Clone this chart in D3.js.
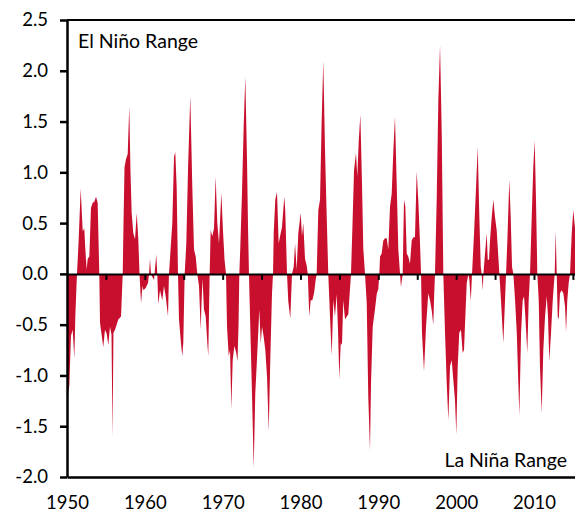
<!DOCTYPE html>
<html>
<head>
<meta charset="utf-8">
<script src="https://cdn.jsdelivr.net/npm/d3@7"></script>
<style>
  body { margin: 0; background: #fff; }
  text { font-family: Lato, "Open Sans", sans-serif; fill: #000; }
</style>
</head>
<body>
<div id="viz"></div>
<script>
// ENSO index, [decimal year, value]
const enso1950s = [
  [1950.00, -1.30], [1950.09, -1.21], [1950.30, -1.10], [1950.51, -0.61], [1950.73, -0.55],
  [1950.94, -0.83], [1951.07, -0.42], [1951.28, 0.00], [1951.48, 0.30], [1951.76, 0.84],
  [1952.02, 0.42], [1952.22, 0.45], [1952.35, 0.25], [1952.53, 0.04], [1952.66, 0.15],
  [1952.87, 0.17], [1953.08, 0.65], [1953.30, 0.70], [1953.51, 0.71], [1953.73, 0.76],
  [1953.94, 0.70], [1954.15, 0.00], [1954.24, -0.48], [1954.66, -0.72], [1954.88, -0.55],
  [1955.10, -0.59], [1955.31, -0.70], [1955.52, -0.52], [1955.72, -0.60], [1955.85, -1.60],
  [1955.97, -0.58], [1956.17, -0.55], [1956.59, -0.45], [1956.94, -0.42], [1957.16, 0.00],
  [1957.26, 0.50], [1957.39, 1.05], [1957.58, 1.13], [1957.80, 1.18], [1958.00, 1.65],
  [1958.16, 1.00], [1958.31, 0.60], [1958.52, 0.40], [1958.74, 0.34], [1958.96, 0.60],
  [1959.16, 0.34], [1959.32, 0.00], [1959.51, -0.29], [1959.70, -0.12], [1959.82, -0.16]
];
const enso1960s = [
  [1960.11, -0.14], [1960.41, -0.09], [1960.54, 0.00], [1960.66, 0.15], [1960.79, 0.00],
  [1961.18, -0.06], [1961.47, 0.19], [1961.60, 0.00], [1961.73, -0.30], [1961.95, -0.16],
  [1962.24, -0.26], [1962.46, -0.12], [1962.68, -0.22], [1962.98, -0.42], [1963.10, 0.00],
  [1963.23, 0.15], [1963.53, 0.50], [1963.75, 1.15], [1963.91, 1.20], [1964.09, 0.86],
  [1964.26, 0.00], [1964.39, -0.45], [1964.61, -0.65], [1964.81, -0.81], [1964.94, -0.68],
  [1965.12, 0.00], [1965.33, 0.30], [1965.55, 1.03], [1965.84, 1.75], [1966.10, 0.86],
  [1966.32, 0.24], [1966.54, 0.17], [1966.74, 0.00], [1966.96, -0.12], [1967.18, -0.55],
  [1967.28, -0.29], [1967.41, -0.05], [1967.60, -0.35], [1967.82, -0.42], [1968.03, -0.68],
  [1968.15, -0.81], [1968.33, 0.00], [1968.46, 0.43], [1968.67, 0.37], [1968.89, 0.45],
  [1969.10, 0.96], [1969.31, 0.50], [1969.53, 0.30], [1969.83, 0.80]
];
const enso1970s = [
  [1970.04, 0.43], [1970.24, 0.14], [1970.43, 0.00], [1970.56, -0.52], [1970.78, -0.81],
  [1970.95, -0.75], [1971.11, -1.33], [1971.29, -0.85], [1971.50, -0.71], [1971.72, -0.77],
  [1971.91, -0.86], [1972.04, -0.50], [1972.14, 0.00], [1972.27, 0.27], [1972.48, 0.79],
  [1972.70, 1.45], [1972.91, 1.94], [1973.13, 1.12], [1973.26, 0.46], [1973.38, 0.00],
  [1973.55, -0.52], [1973.77, -1.18], [1973.99, -1.91], [1974.19, -1.18], [1974.41, -0.84],
  [1974.71, -0.35], [1974.89, -0.68], [1975.06, -0.52], [1975.27, -0.62], [1975.48, -0.75],
  [1975.70, -1.01], [1975.92, -1.55], [1976.12, -0.84], [1976.34, -0.19], [1976.47, 0.00],
  [1976.56, 0.40], [1976.76, 0.73], [1976.98, 0.81], [1977.20, 0.30], [1977.40, 0.38],
  [1977.62, 0.46], [1977.92, 0.76], [1978.04, 0.63], [1978.27, 0.00], [1978.43, -0.27],
  [1978.69, -0.44], [1978.91, 0.00], [1979.13, 0.07], [1979.30, 0.30], [1979.51, 0.04],
  [1979.72, 0.40]
];
const enso1980s = [
  [1980.03, 0.60], [1980.19, 0.37], [1980.36, 0.50], [1980.58, 0.15], [1980.80, 0.08],
  [1980.94, 0.00], [1981.13, -0.42], [1981.31, -0.26], [1981.52, -0.26], [1981.74, -0.19],
  [1981.95, -0.06], [1982.08, 0.00], [1982.29, 0.63], [1982.51, 0.73], [1982.72, 1.50],
  [1982.93, 2.10], [1983.15, 1.22], [1983.37, 0.56], [1983.57, 0.00], [1983.79, -0.42],
  [1984.01, -0.80], [1984.22, -0.26], [1984.43, -0.42], [1984.65, -0.20], [1984.82, -0.55],
  [1984.99, -1.04], [1985.17, -0.68], [1985.33, -0.70], [1985.50, -0.26], [1985.72, -0.45],
  [1985.94, -0.42], [1986.14, -0.40], [1986.36, -0.15], [1986.49, 0.00], [1986.71, 0.56],
  [1986.88, 1.02], [1987.13, 1.19], [1987.30, 0.96], [1987.48, 1.30], [1987.69, 1.57],
  [1987.90, 0.90], [1988.07, 0.25], [1988.29, 0.00], [1988.51, -0.29], [1988.71, -1.21],
  [1988.93, -1.74], [1989.06, -1.08], [1989.28, -0.52], [1989.57, -0.35], [1989.79, -0.20]
];
const enso1990s = [
  [1990.00, -0.15], [1990.13, 0.00], [1990.22, 0.17], [1990.43, 0.20], [1990.64, 0.33],
  [1990.86, 0.35], [1991.08, 0.35], [1991.28, 0.24], [1991.50, 0.66], [1991.72, 0.79],
  [1991.93, 1.21], [1992.14, 1.55], [1992.36, 0.89], [1992.57, 0.24], [1992.79, 0.00],
  [1992.91, -0.13], [1993.13, 0.00], [1993.30, 0.73], [1993.47, 0.66], [1993.65, 0.20],
  [1993.85, 0.17], [1994.07, 0.10], [1994.29, 0.33], [1994.50, 0.36], [1994.71, 0.36],
  [1994.93, 1.01], [1995.14, 0.72], [1995.36, 0.30], [1995.49, 0.00], [1995.61, -0.58],
  [1995.87, -0.96], [1996.13, -0.52], [1996.42, -0.19], [1996.64, -0.26], [1996.86, -0.36],
  [1997.06, -0.50], [1997.18, -0.20], [1997.28, 0.00], [1997.50, 0.73], [1997.71, 1.71],
  [1997.93, 2.25], [1998.15, 1.38], [1998.35, 0.00], [1998.57, -0.58], [1998.79, -1.08],
  [1999.00, -1.44], [1999.21, -0.91], [1999.43, -0.85], [1999.63, -1.04], [1999.85, -1.24]
];
const enso2000s = [
  [2000.02, -1.58], [2000.20, -0.91], [2000.40, -0.58], [2000.62, -0.55], [2000.84, -0.78],
  [2001.01, -0.75], [2001.18, -0.42], [2001.36, -0.09], [2001.57, 0.00], [2001.70, -0.06],
  [2001.88, -0.27], [2002.04, 0.00], [2002.30, 0.40], [2002.56, 0.86], [2002.77, 1.25],
  [2002.98, 0.56], [2003.16, 0.07], [2003.28, 0.00], [2003.42, -0.16], [2003.50, 0.00],
  [2003.71, 0.20], [2003.93, 0.40], [2004.06, 0.14], [2004.22, 0.14], [2004.35, 0.33],
  [2004.57, 0.56], [2004.78, 0.73], [2004.99, 0.56], [2005.21, 0.43], [2005.34, 0.27],
  [2005.55, 0.00], [2005.76, -0.26], [2006.06, -0.68], [2006.28, -0.26], [2006.41, 0.00],
  [2006.58, 0.33], [2006.83, 0.93], [2007.01, 0.56], [2007.18, 0.07], [2007.35, 0.00],
  [2007.57, -0.26], [2007.79, -0.58], [2007.99, -1.08], [2008.12, -1.39], [2008.34, -0.58],
  [2008.55, -0.26], [2008.72, -0.22], [2008.89, -0.42], [2009.14, -0.78], [2009.32, -0.26],
  [2009.49, 0.00], [2009.71, 0.56], [2009.91, 1.05]
];
const enso2010s = [
  [2010.09, 1.31], [2010.26, 0.73], [2010.43, 0.00], [2010.61, -0.26], [2010.77, -0.91],
  [2010.99, -1.37], [2011.20, -0.75], [2011.42, -0.42], [2011.64, -0.22], [2011.80, -0.42],
  [2011.97, -0.86], [2012.19, -0.58], [2012.41, -0.26], [2012.66, 0.00], [2012.79, 0.42],
  [2012.92, 0.00], [2013.05, -0.42], [2013.18, -0.45], [2013.34, -0.19], [2013.56, -0.16],
  [2013.77, -0.19], [2013.99, -0.32], [2014.12, -0.57], [2014.28, -0.26], [2014.46, -0.09],
  [2014.63, 0.00], [2014.85, 0.40], [2015.05, 0.63], [2015.27, 0.45]
];

const yTickValues = [-2.0, -1.5, -1.0, -0.5, 0.0, 0.5, 1.0, 1.5, 2.0, 2.5];
const yearLabels = [1950, 1960, 1970, 1980, 1990, 2000, 2010];
const zeroTicks = [1955, 1960, 1965, 1970, 1975, 1980, 1985, 1990, 1995, 2000, 2005, 2010, 2015];

const data = [].concat(enso1950s, enso1960s, enso1970s, enso1980s, enso1990s, enso2000s, enso2010s);

const width = 575;
const height = 515;
const margin = { top: 20, right: 0, bottom: 38, left: 67 };

const x = d3.scaleLinear()
            .domain([1950, 2015.27])
            .range([margin.left, width - margin.right]);

const y = d3.scaleLinear()
            .domain([-2, 2.5])
            .range([height - margin.bottom, margin.top]);

const svg = d3.select('#viz')
              .append('svg')
              .attr('width', width)
              .attr('height', height);

// filled index
const area = d3.area()
               .x((d) => x(d[0]))
               .y0(y(0))
               .y1((d) => y(d[1]));

svg.append('path')
   .datum(data)
   .attr('fill', '#c8102e')
   .attr('d', area);

// top frame line
svg.append('line')
   .attr('x1', margin.left).attr('x2', width)
   .attr('y1', y(2.5)).attr('y2', y(2.5))
   .attr('stroke', '#000')
   .attr('stroke-width', 2);

// zero line with 5-year marks
const zeroAxis = svg.append('g')
                    .attr('transform', `translate(0, ${y(0)})`)
                    .call(d3.axisBottom(x).tickValues(zeroTicks).tickSize(6).tickSizeOuter(0).tickFormat(''));
zeroAxis.select('.domain').attr('stroke-width', 2);
zeroAxis.selectAll('.tick line').attr('stroke-width', 2);

const yAxis = svg.append('g')
                 .attr('transform', `translate(${margin.left}, 0)`)
                 .call(d3.axisLeft(y).tickValues(yTickValues).tickFormat(d3.format('.1f'))
                         .tickSize(7).tickSizeOuter(0).tickPadding(12));
yAxis.select('.domain').attr('stroke-width', 2.5);
yAxis.selectAll('.tick line').attr('stroke-width', 2.5);
yAxis.selectAll('text').style('font-size', '18.5px').text((d) => d3.format('.1f')(d).replace('−', '-'));

const xAxis = svg.append('g')
                 .attr('transform', `translate(0, ${y(-2)})`)
                 .call(d3.axisBottom(x).tickValues(yearLabels).tickFormat(d3.format('d'))
                         .tickSize(0).tickSizeOuter(0).tickPadding(19));
xAxis.select('.domain').attr('stroke-width', 2.5);
xAxis.selectAll('text').style('font-size', '18.5px');

svg.append('text')
   .attr('x', 78)
   .attr('y', 48)
   .style('font-size', '19.5px')
   .text('El Niño Range');

svg.append('text')
   .attr('x', 567)
   .attr('y', 467)
   .attr('text-anchor', 'end')
   .style('font-size', '19.5px')
   .text('La Niña Range');
</script>
</body>
</html>
